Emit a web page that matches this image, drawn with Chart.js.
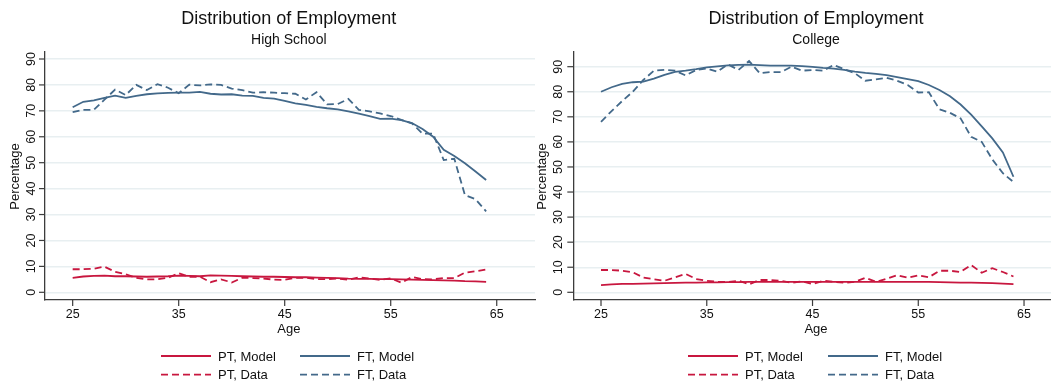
<!DOCTYPE html>
<html><head><meta charset="utf-8">
<script src="https://cdn.jsdelivr.net/npm/chart.js@4"></script>
<style>
html,body{margin:0;padding:0;background:#fff;}
#wrap{position:relative;width:1051px;height:387px;overflow:hidden;background:#fff;}
canvas{position:absolute;top:0;}
</style></head><body>
<div id="wrap">
<canvas id="c1" width="537" height="387" style="left:0"></canvas>
<canvas id="c2" width="514" height="387" style="left:537px"></canvas>
</div>
<script>
// ---------- data ----------
const ages = [25,26,27,28,29,30,31,32,33,34,35,36,37,38,39,40,41,42,43,44,45,46,47,48,49,50,51,52,53,54,55,56,57,58,59,60,61,62,63,64];

const hsPtModel = [5.6,6.1,6.3,6.4,6.2,6.2,6.1,6.0,6.1,6.2,6.4,6.3,6.2,6.5,6.4,6.3,6.2,6.1,6.0,6.0,5.9,5.8,5.8,5.7,5.6,5.5,5.3,5.2,5.2,5.1,5.1,5.0,4.9,4.8,4.7,4.6,4.5,4.3,4.2,4.0];
const hsFtModel = [71.4,73.5,74.0,75.0,75.9,75.0,75.8,76.4,76.7,76.9,77.0,77.0,77.3,76.6,76.3,76.4,75.9,75.8,75.0,74.7,73.8,72.9,72.3,71.5,71.0,70.6,69.8,68.9,68.0,66.9,67.0,66.4,65.3,63.0,60.0,55.0,52.6,49.8,46.6,43.3];
const hsPtData  = [8.9,8.9,9.1,9.9,7.9,7.0,5.6,5.0,5.0,5.6,7.4,6.0,6.0,3.9,5.0,3.8,5.6,5.5,5.3,4.9,4.8,5.6,5.6,5.1,5.1,5.3,4.8,5.8,5.3,4.8,5.4,3.7,5.9,5.1,5.0,5.5,5.5,7.6,8.1,8.8];
const hsFtData  = [69.5,70.4,70.4,74.3,78.2,76.1,80.0,78.0,80.3,78.9,76.8,80.1,79.8,80.2,80.0,78.6,78.0,77.0,77.2,77.0,76.8,76.6,74.4,77.2,72.5,72.6,74.6,70.4,69.8,69.0,68.0,66.5,65.2,61.2,61.2,51.0,51.5,37.5,35.9,31.2];

const colPtModel = [2.9,3.2,3.4,3.4,3.5,3.6,3.7,3.8,3.9,3.9,4.0,4.0,4.1,4.1,4.2,4.2,4.2,4.2,4.2,4.2,4.2,4.2,4.2,4.2,4.2,4.2,4.2,4.2,4.2,4.2,4.2,4.2,4.1,4.0,3.9,3.9,3.8,3.7,3.5,3.3];
const colFtModel = [80.0,81.8,83.1,83.8,84.0,85.2,86.7,87.9,88.4,89.0,89.7,90.1,90.5,90.7,90.8,90.6,90.4,90.4,90.4,90.2,89.9,89.5,89.2,88.7,88.0,87.5,87.1,86.6,85.8,85.0,84.2,82.7,80.7,78.2,74.9,70.9,66.2,61.4,55.8,46.1];
const colPtData  = [8.9,8.9,8.6,8.0,5.9,5.2,4.6,6.0,7.3,5.3,4.6,4.2,4.1,4.6,3.2,4.9,4.9,4.6,3.8,4.4,3.3,4.6,4.2,3.8,4.2,5.8,4.2,5.4,6.8,5.8,6.8,6.0,8.6,8.6,8.1,10.9,7.8,9.6,8.1,6.3];
const colFtData  = [68.0,72.3,76.3,80.0,84.7,88.4,88.7,88.4,86.5,88.7,89.3,88.0,90.9,88.7,92.3,87.4,87.9,87.8,90.0,88.4,88.7,88.4,90.7,89.0,87.4,84.4,84.9,85.6,84.4,82.7,79.7,79.8,73.0,71.6,69.4,62.0,60.0,53.0,47.5,44.0];

const xTicks = [25,35,45,55,65];
const yTicks = [0,10,20,30,40,50,60,70,80,90];
const seriesLabels = ['PT, Model','FT, Model','PT, Data','FT, Data'];
const mainTitle = 'Distribution of Employment';
const subTitles = ['High School','College'];
const xTitle = 'Age';
const yTitle = 'Percentage';

// ---------- style ----------
const RED = '#c8173f';
const BLUE = '#43698a';
const GRID = '#e8eff1';
const AXIS = '#3c3c3c';
const FONT = '"Liberation Sans", Arial, Helvetica, sans-serif';

function pts(vals){ return ages.map((a,i)=>({x:a,y:vals[i]})); }

const decor = {
  id:'decor',
  afterDraw(chart, args, o){
    const ctx = chart.ctx, xs = chart.scales.x, ys = chart.scales.y, a = chart.chartArea;
    ctx.save();
    // tick marks
    ctx.strokeStyle = AXIS; ctx.lineWidth = 1.2;
    xTicks.forEach(v=>{
      const px = xs.getPixelForValue(v);
      ctx.beginPath(); ctx.moveTo(px, a.bottom); ctx.lineTo(px, a.bottom+6); ctx.stroke();
    });
    yTicks.forEach(v=>{
      const py = ys.getPixelForValue(v);
      ctx.beginPath(); ctx.moveTo(a.left-6, py); ctx.lineTo(a.left, py); ctx.stroke();
    });
    ctx.fillStyle = '#111';
    // x tick labels
    ctx.font = '12.5px ' + FONT;
    ctx.textAlign = 'center'; ctx.textBaseline = 'alphabetic';
    xTicks.forEach(v=>{ ctx.fillText(String(v), xs.getPixelForValue(v), a.bottom+18); });
    // y tick labels (rotated)
    yTicks.forEach(v=>{
      ctx.save();
      ctx.translate(a.left - o.yLabOff, ys.getPixelForValue(v));
      ctx.rotate(-Math.PI/2);
      ctx.fillText(String(v), 0, 0);
      ctx.restore();
    });
    // axis titles
    ctx.font = '13px ' + FONT;
    ctx.fillText(xTitle, o.titleX, 333);
    ctx.save();
    ctx.translate(a.left - o.yTitleOff, 176.5);
    ctx.rotate(-Math.PI/2);
    ctx.fillText(yTitle, 0, 0);
    ctx.restore();
    // titles
    ctx.font = '18px ' + FONT;
    ctx.fillText(mainTitle, o.titleX, 24);
    ctx.font = '14px ' + FONT;
    ctx.fillText(o.sub, o.titleX, 44);
    // legend
    const ds = chart.data.datasets;
    const order = [0,1,2,3];
    const cols = [o.leg1, o.leg2];
    const rowsY = [356, 374.7];
    ctx.font = '13px ' + FONT;
    ctx.textAlign = 'left';
    order.forEach((di,k)=>{
      const d = ds[di];
      const col = k % 2, row = Math.floor(k/2);
      const x0 = cols[col], y0 = rowsY[row];
      ctx.save();
      ctx.strokeStyle = d.borderColor; ctx.lineWidth = 1.8;
      ctx.setLineDash(d.borderDash || []);
      ctx.beginPath(); ctx.moveTo(x0, y0); ctx.lineTo(x0+50, y0); ctx.stroke();
      ctx.restore();
      ctx.fillStyle = '#111';
      ctx.fillText(d.label, x0+57, y0+4.5);
    });
    ctx.restore();
  }
};

function makeChart(id, sets, p){
  return new Chart(document.getElementById(id), {
    type:'line',
    data:{ datasets:[
      {label:seriesLabels[0], data:pts(sets[0]), borderColor:RED, borderWidth:1.8, pointRadius:0, tension:0, order:3},
      {label:seriesLabels[1], data:pts(sets[1]), borderColor:BLUE, borderWidth:1.8, pointRadius:0, tension:0, order:1},
      {label:seriesLabels[2], data:pts(sets[2]), borderColor:RED, borderWidth:1.8, borderDash:[7,4], pointRadius:0, tension:0, order:4},
      {label:seriesLabels[3], data:pts(sets[3]), borderColor:BLUE, borderWidth:1.8, borderDash:[7,4], pointRadius:0, tension:0, order:2}
    ]},
    options:{
      responsive:false, animation:false, devicePixelRatio:1,
      layout:{padding:p.pad},
      plugins:{ legend:{display:false}, tooltip:{enabled:false}, title:{display:false}, decor:p },
      scales:{
        x:{ type:'linear', min:p.xMin, max:p.xMax,
            grid:{display:false, drawTicks:false},
            border:{display:true, color:AXIS, width:1.3},
            ticks:{display:false},
            afterFit:s=>{ s.height = 0; } },
        y:{ type:'linear', min:p.yMin, max:p.yMax,
            afterBuildTicks:s=>{ s.ticks = yTicks.map(v=>({value:v})); },
            grid:{color:GRID, lineWidth:1.4, drawTicks:false},
            border:{display:true, color:AXIS, width:1.3},
            ticks:{display:false},
            afterFit:s=>{ s.width = 0; } }
      }
    },
    plugins:[decor]
  });
}

makeChart('c1', [hsPtModel, hsFtModel, hsPtData, hsFtData], {
  pad:{left:45, right:2, top:52, bottom:87},
  xMin:22.39, xMax:68.61, yMin:-2.97, yMax:92.7,
  yLabOff:10.5, yTitleOff:25.7, titleX:288.8, sub:subTitles[0],
  leg1:161, leg2:300
});
makeChart('c2', [colPtModel, colFtModel, colPtData, colFtData], {
  pad:{left:36.3, right:0, top:52, bottom:87},
  xMin:22.38, xMax:67.55, yMin:-3.07, yMax:95.86,
  yLabOff:11.6, yTitleOff:27.3, titleX:279, sub:subTitles[1],
  leg1:151, leg2:291
});
</script>
</body></html>
